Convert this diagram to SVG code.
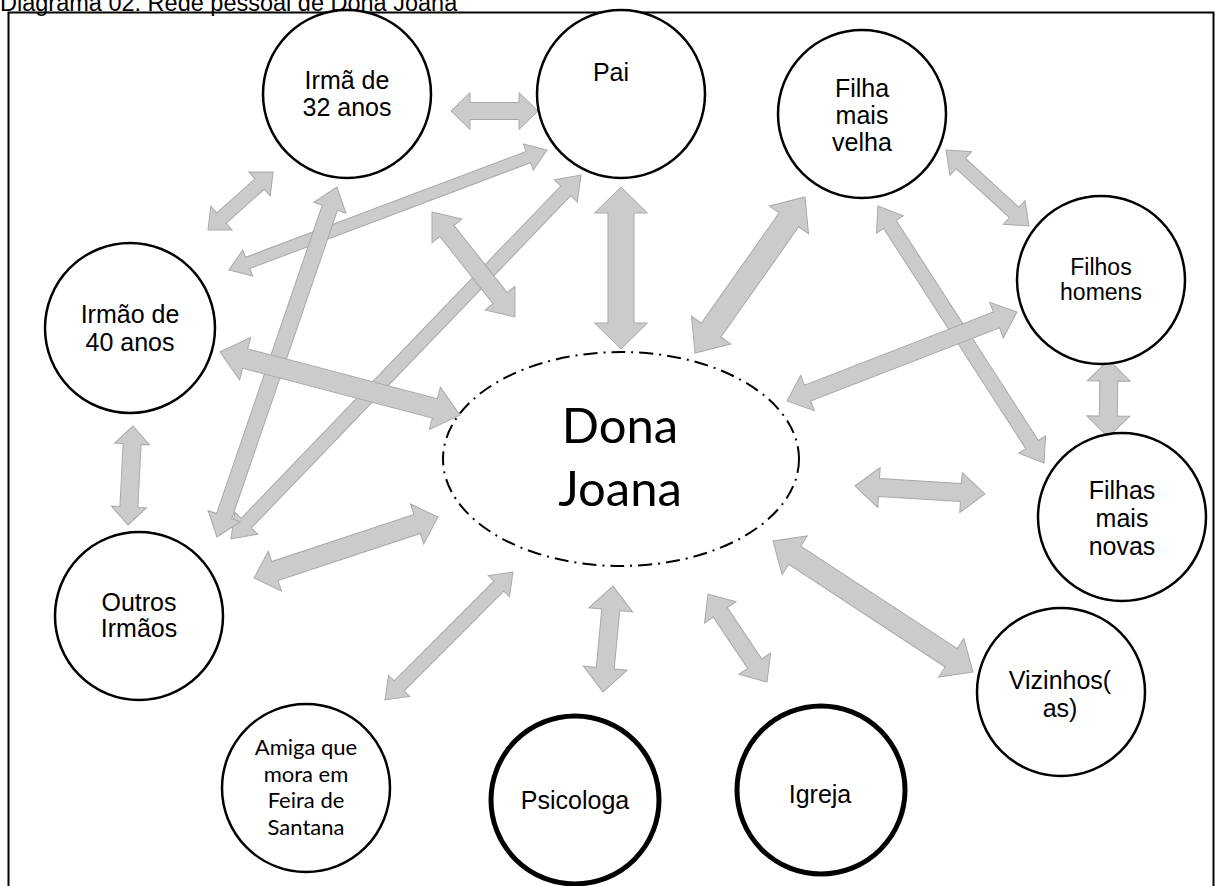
<svg xmlns="http://www.w3.org/2000/svg" width="1224" height="886" viewBox="0 0 1224 886">
<style>
.arr{fill:#cbcbcb;stroke:#a9a9a9;stroke-width:1}
.node{fill:#fff;stroke:#000;stroke-width:2.5}
.bold{fill:#fff;stroke:#000;stroke-width:5}
.t{font-family:"Liberation Sans",Arial,sans-serif;font-size:25px;fill:#000;text-anchor:middle}
.c{font-family:Lato,"Open Sans",sans-serif;fill:#000;text-anchor:middle}
</style>
<rect width="1224" height="886" fill="#fff"/>
<text x="0" y="11" style="font-family:'Liberation Sans',Arial,sans-serif;font-size:23.5px;fill:#000">Diagrama 02. Rede pessoal de Dona Joana</text>
<rect x="8.5" y="12.5" width="1205" height="900" fill="none" stroke="#000" stroke-width="2"/>
<g id="connectors">
<path class="arr" transform="translate(451,111)" d="M0,0L19,-18.5L19,-8.5L68,-8.5L68,-18.5L87,0L68,18.5L68,8.5L19,8.5L19,18.5Z"/>
<path class="arr" transform="translate(208,230) rotate(-41.7)" d="M0,0L18,-16L18,-7L69.1,-7L69.1,-16L87.1,0L69.1,16L69.1,7L18,7L18,16Z"/>
<path class="arr" transform="translate(229,270) rotate(-20.67)" d="M0,0L20,-14L20,-6L319.9,-6L319.9,-14L339.9,0L319.9,14L319.9,6L20,6L20,14Z"/>
<path class="arr" transform="translate(231,539) rotate(-46.12)" d="M0,0L22,-16L22,-7L483,-7L483,-16L505,0L483,16L483,7L22,7L22,16Z"/>
<path class="arr" transform="translate(217,537) rotate(-71.08)" d="M0,0L22,-17L22,-8L348,-8L348,-17L370,0L348,17L348,8L22,8L22,17Z"/>
<path class="arr" transform="translate(432,212) rotate(51.67)" d="M0,0L24,-19L24,-9L109.8,-9L109.8,-19L133.8,0L109.8,19L109.8,9L24,9L24,19Z"/>
<path class="arr" transform="translate(621,187) rotate(90)" d="M0,0L26,-26.5L26,-13L136,-13L136,-26.5L162,0L136,26.5L136,13L26,13L26,26.5Z"/>
<path class="arr" transform="translate(220,352) rotate(14.71)" d="M0,0L26,-22L26,-10L222.1,-10L222.1,-22L248.1,0L222.1,22L222.1,10L26,10L26,22Z"/>
<path class="arr" transform="translate(133,426) rotate(92.89)" d="M0,0L18,-17.5L18,-9L81.1,-9L81.1,-17.5L99.1,0L81.1,17.5L81.1,9L18,9L18,17.5Z"/>
<path class="arr" transform="translate(254,578) rotate(-18.34)" d="M0,0L22,-21L22,-10L171.8,-10L171.8,-21L193.8,0L171.8,21L171.8,10L22,10L22,21Z"/>
<path class="arr" transform="translate(385,700) rotate(-45)" d="M0,0L20,-15L20,-7L161,-7L161,-15L181,0L161,15L161,7L20,7L20,15Z"/>
<path class="arr" transform="translate(603,692) rotate(-84.61)" d="M0,0L24,-22L24,-9L82.5,-9L82.5,-22L106.5,0L82.5,22L82.5,9L24,9L24,22Z"/>
<path class="arr" transform="translate(767,682) rotate(-123.84)" d="M0,0L22,-19L22,-8.5L83.9,-8.5L83.9,-19L105.9,0L83.9,19L83.9,8.5L22,8.5L22,19Z"/>
<path class="arr" transform="translate(973,672) rotate(-146.78)" d="M0,0L26,-23L26,-11L213.1,-11L213.1,-23L239.1,0L213.1,23L213.1,11L26,11L26,23Z"/>
<path class="arr" transform="translate(855,486) rotate(3.52)" d="M0,0L24,-20L24,-9L106.2,-9L106.2,-20L130.2,0L106.2,20L106.2,9L24,9L24,20Z"/>
<path class="arr" transform="translate(1109,360) rotate(90.7)" d="M0,0L21,-21.5L21,-9L56,-9L56,-21.5L77,0L56,21.5L56,9L21,9L21,21.5Z"/>
<path class="arr" transform="translate(878,206) rotate(57.14)" d="M0,0L22,-16L22,-7.5L284,-7.5L284,-16L306,0L284,16L284,7.5L22,7.5L22,16Z"/>
<path class="arr" transform="translate(946,150) rotate(42.48)" d="M0,0L20,-16L20,-7L92.5,-7L92.5,-16L112.5,0L92.5,16L92.5,7L20,7L20,16Z"/>
<path class="arr" transform="translate(787,401) rotate(-21.15)" d="M0,0L22,-19L22,-8.5L224.6,-8.5L224.6,-19L246.6,0L224.6,19L224.6,8.5L22,8.5L22,19Z"/>
<path class="arr" transform="translate(695,353) rotate(-54.81)" d="M0,0L28,-24L28,-12L162.9,-12L162.9,-24L190.9,0L162.9,24L162.9,12L28,12L28,24Z"/>
</g>
<g id="dona-joana">
<ellipse cx="621" cy="459" rx="178" ry="107" fill="none" stroke="#000" stroke-width="2" stroke-dasharray="14 6 2 6"/>
<text class="c" x="620" y="443" font-size="49">Dona</text>
<text class="c" x="620" y="506" font-size="49">Joana</text>
</g>
<g id="irma32">
<circle class="node" cx="347" cy="94" r="84"/>
<text class="t" x="347" y="89">Irmã de</text>
<text class="t" x="347" y="116">32 anos</text>
</g>
<g id="pai">
<circle class="node" cx="621" cy="94" r="84"/>
<text class="t" x="611" y="81">Pai</text>
</g>
<g id="filha-mais-velha">
<circle class="node" cx="862" cy="114" r="84"/>
<text class="t" x="862" y="97">Filha</text>
<text class="t" x="862" y="124">mais</text>
<text class="t" x="862" y="151">velha</text>
</g>
<g id="filhos-homens">
<circle class="node" cx="1101" cy="280" r="84"/>
<text class="t" x="1101" y="275" style="font-size:23px">Filhos</text>
<text class="t" x="1101" y="300" style="font-size:23px">homens</text>
</g>
<g id="irmao40">
<circle class="node" cx="130" cy="328" r="85"/>
<text class="t" x="130" y="323">Irmão de</text>
<text class="t" x="130" y="351">40 anos</text>
</g>
<g id="outros-irmaos">
<circle class="node" cx="139" cy="616" r="84"/>
<text class="t" x="139" y="611">Outros</text>
<text class="t" x="139" y="637">Irmãos</text>
</g>
<g id="filhas-mais-novas">
<circle class="node" cx="1122" cy="517" r="84"/>
<text class="t" x="1122" y="499">Filhas</text>
<text class="t" x="1122" y="527">mais</text>
<text class="t" x="1122" y="555">novas</text>
</g>
<g id="vizinhos">
<circle class="node" cx="1061" cy="692" r="84"/>
<text class="t" x="1060" y="689">Vizinhos(</text>
<text class="t" x="1060" y="717">as)</text>
</g>
<g id="amiga">
<circle class="node" cx="306" cy="788" r="84"/>
<text class="c" x="306" y="755" font-size="22">Amiga que</text>
<text class="c" x="306" y="782" font-size="22">mora em</text>
<text class="c" x="306" y="808" font-size="22">Feira de</text>
<text class="c" x="306" y="835" font-size="22">Santana</text>
</g>
<g id="psicologa">
<circle class="bold" cx="575" cy="800" r="84"/>
<text class="t" x="575" y="809">Psicologa</text>
</g>
<g id="igreja">
<circle class="bold" cx="821" cy="790" r="84"/>
<text class="t" x="820" y="803">Igreja</text>
</g>
</svg>
